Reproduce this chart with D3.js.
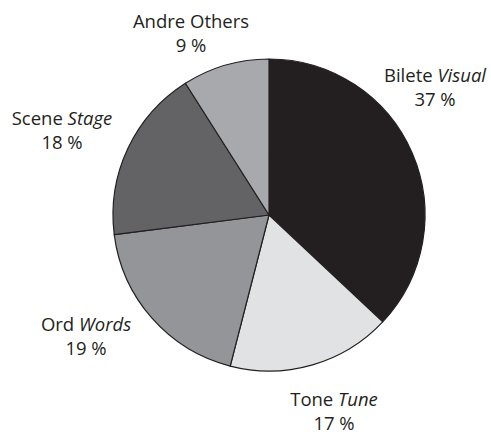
<!DOCTYPE html>
<html>
<head>
<meta charset="utf-8">
<script src="https://cdn.jsdelivr.net/npm/d3@7"></script>
<style>
  body { margin: 0; background: #fff; }
  svg { display: block; font-family: "Open Sans", "Noto Sans", sans-serif; }
</style>
</head>
<body>
<svg></svg>
<script>
// Chart size
const width = 491;
const height = 435;

// Data (clockwise from 12 o'clock)
const categories = ["Bilete", "Tone", "Ord", "Scene", "Andre"];
const translations = ["Visual", "Tune", "Words", "Stage", "Others"];
const italicTranslation = [true, true, true, true, false];
const values = [37, 17, 19, 18, 9];
const fills = ["#231f20", "#e1e2e3", "#939598", "#636365", "#a7a9ac"];

// Label layout: first-line baseline offset [dx, dy] from the pie centre
const labelOffset = [[166, -133], [65, 191], [-183, 116], [-207, -90], [-78, -187]];

const cx = 269, cy = 215, radius = 156;

const svg = d3.select("svg")
    .attr("width", width)
    .attr("height", height);

const g = svg.append("g").attr("transform", `translate(${cx},${cy})`);

const pie = d3.pie().sort(null).value(d => d.value);
const arc = d3.arc().innerRadius(0).outerRadius(radius);

const rows = categories.map((c, i) => ({
    name: c, en: translations[i], it: italicTranslation[i], value: values[i], fill: fills[i]
}));

g.selectAll("path")
    .data(pie(rows))
    .enter().append("path")
    .attr("d", arc)
    .style("fill", d => d.data.fill)
    .style("stroke", "#231f20")
    .style("stroke-width", 1.2)
    .style("stroke-linejoin", "round");

// Labels
const labels = g.selectAll(".label")
    .data(rows)
    .enter().append("text")
    .attr("class", "label")
    .attr("text-anchor", "middle")
    .style("font-size", "18.5px")
    .style("fill", "#231f20")
    .attr("transform", (d, i) => `translate(${labelOffset[i][0]},${labelOffset[i][1]})`);

labels.append("tspan")
    .attr("x", 0)
    .text(d => d.name + " ");
labels.append("tspan")
    .style("font-style", d => d.it ? "italic" : "normal")
    .text(d => d.en);
labels.append("tspan")
    .attr("x", 0)
    .attr("dy", 24)
    .text(d => d.value + " %");
</script>
</body>
</html>
